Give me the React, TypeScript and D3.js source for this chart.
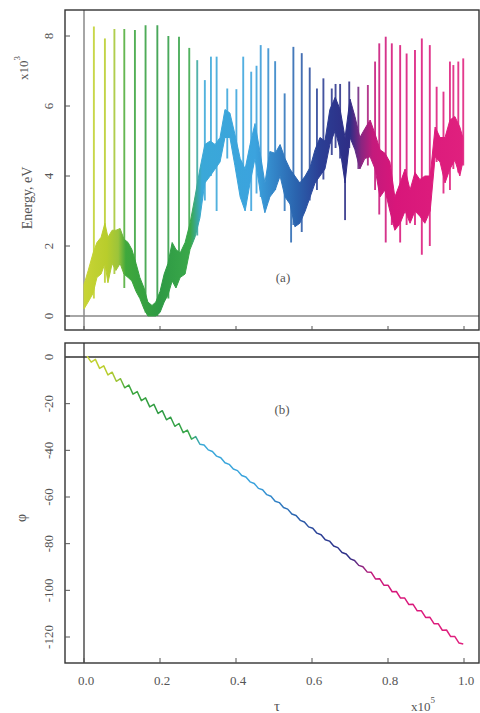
import React from "react";
import * as d3 from "d3";

// ---------- data ----------
const xTicks = [0, 0.2, 0.4, 0.6, 0.8, 1.0];
const xTickLabels = ["0.0", "0.2", "0.4", "0.6", "0.8", "1.0"];
const eTicks = [0, 2, 4, 6, 8];
const phiTicks = [0, -20, -40, -60, -80, -100, -120];

// energy baseline band (tau in 1e5 units, energy in 1e3 eV)
const bandTau = [0.000, 0.011, 0.024, 0.034, 0.045, 0.055, 0.063, 0.074, 0.084, 0.095, 0.105, 0.116, 0.126, 0.137, 0.147, 0.158, 0.168, 0.179, 0.189, 0.200, 0.211, 0.221, 0.232, 0.242, 0.253, 0.266, 0.279, 0.292, 0.305, 0.318, 0.332, 0.345, 0.358, 0.371, 0.384, 0.397, 0.411, 0.424, 0.437, 0.450, 0.463, 0.476, 0.489, 0.503, 0.516, 0.529, 0.542, 0.555, 0.568, 0.582, 0.595, 0.608, 0.621, 0.634, 0.647, 0.661, 0.674, 0.687, 0.700, 0.713, 0.726, 0.739, 0.753, 0.766, 0.779, 0.792, 0.805, 0.818, 0.832, 0.845, 0.858, 0.871, 0.884, 0.897, 0.911, 0.924, 0.937, 0.950, 0.963, 0.976, 0.989, 0.997];
const bandLo = [0.20, 0.40, 0.65, 1.10, 1.20, 1.50, 0.95, 1.50, 1.30, 1.50, 1.20, 1.10, 1.00, 0.70, 0.50, 0.20, 0.00, 0.00, 0.00, 0.10, 0.40, 0.60, 1.00, 0.80, 1.10, 1.20, 1.90, 2.25, 2.80, 3.80, 4.00, 4.20, 4.40, 5.10, 5.10, 4.30, 3.40, 3.00, 3.80, 4.50, 3.60, 2.95, 3.40, 3.60, 4.00, 3.40, 3.20, 2.55, 2.65, 3.00, 3.40, 3.80, 4.00, 4.20, 4.90, 5.30, 4.75, 3.80, 5.10, 4.75, 4.20, 4.50, 4.55, 4.20, 3.40, 3.60, 3.00, 2.45, 2.65, 3.00, 2.65, 3.00, 2.85, 2.65, 3.00, 4.55, 4.40, 3.80, 4.20, 4.45, 4.00, 4.40];
const bandHi = [0.90, 1.30, 1.80, 2.10, 2.25, 2.65, 2.25, 2.45, 2.45, 2.50, 2.20, 2.10, 1.90, 1.50, 1.10, 0.80, 0.40, 0.30, 0.40, 0.70, 1.20, 1.50, 2.10, 1.90, 1.80, 2.10, 2.65, 3.40, 4.20, 4.90, 5.00, 4.90, 5.10, 5.90, 5.80, 5.20, 4.50, 4.20, 4.90, 5.50, 4.70, 3.80, 4.70, 4.65, 4.90, 4.50, 4.20, 4.00, 3.80, 4.00, 4.25, 4.75, 5.10, 5.00, 5.90, 6.25, 5.90, 5.10, 6.20, 5.70, 5.10, 5.35, 5.60, 5.20, 4.75, 4.65, 4.40, 3.40, 3.80, 4.20, 3.60, 4.10, 3.90, 4.00, 4.00, 5.40, 5.10, 5.10, 5.60, 5.70, 5.40, 5.10];

// energy spikes
const spikeTau = [0.026, 0.055, 0.080, 0.106, 0.134, 0.162, 0.193, 0.222, 0.250, 0.277, 0.298, 0.318, 0.334, 0.349, 0.377, 0.401, 0.419, 0.440, 0.454, 0.465, 0.485, 0.503, 0.528, 0.545, 0.551, 0.573, 0.594, 0.613, 0.630, 0.652, 0.662, 0.674, 0.687, 0.698, 0.722, 0.747, 0.766, 0.777, 0.794, 0.810, 0.832, 0.849, 0.871, 0.889, 0.910, 0.928, 0.946, 0.963, 0.972, 0.985, 0.998];
const spikeTop = [8.27, 7.93, 8.20, 8.20, 8.17, 8.31, 8.31, 8.00, 7.98, 7.66, 7.31, 6.74, 7.41, 7.41, 6.50, 6.48, 7.41, 6.98, 7.15, 7.74, 7.65, 7.28, 6.36, 4.00, 7.69, 7.51, 7.10, 6.50, 6.79, 6.50, 6.63, 6.63, 4.80, 6.70, 6.55, 6.60, 7.27, 7.79, 7.98, 7.79, 7.74, 7.50, 7.60, 7.93, 7.74, 6.55, 6.41, 7.27, 7.17, 7.27, 7.36];
const spikeBottom = [0.50, 0.95, 1.20, 0.80, 0.80, 0.10, 0.00, 0.50, 1.20, 2.00, 2.30, 3.30, 4.00, 3.00, 4.50, 4.30, 3.40, 3.00, 3.50, 3.40, 3.30, 3.60, 3.00, 2.10, 2.60, 2.40, 3.30, 3.60, 3.90, 4.60, 4.80, 4.50, 2.74, 4.80, 4.20, 4.30, 3.60, 2.90, 2.10, 2.60, 2.10, 2.60, 2.60, 1.75, 2.00, 4.40, 3.50, 3.60, 4.20, 4.10, 4.30];

// phase series
const phiTau = [0.008, 0.019, 0.030, 0.041, 0.052, 0.063, 0.074, 0.085, 0.096, 0.107, 0.118, 0.129, 0.140, 0.151, 0.162, 0.173, 0.184, 0.195, 0.206, 0.217, 0.228, 0.239, 0.250, 0.261, 0.272, 0.283, 0.294, 0.305, 0.316, 0.327, 0.338, 0.349, 0.360, 0.371, 0.382, 0.393, 0.404, 0.415, 0.426, 0.437, 0.448, 0.459, 0.470, 0.481, 0.492, 0.503, 0.514, 0.525, 0.536, 0.547, 0.558, 0.569, 0.580, 0.591, 0.602, 0.613, 0.624, 0.635, 0.646, 0.657, 0.668, 0.679, 0.690, 0.701, 0.712, 0.723, 0.734, 0.745, 0.756, 0.767, 0.778, 0.789, 0.800, 0.811, 0.822, 0.833, 0.844, 0.855, 0.866, 0.877, 0.888, 0.899, 0.910, 0.921, 0.932, 0.943, 0.954, 0.965, 0.976, 0.987, 0.998];
const phiVal = [0.4, -2.2, -1.0, -4.9, -3.8, -7.7, -6.5, -10.4, -9.3, -13.2, -12.0, -15.9, -14.8, -18.7, -17.5, -21.4, -20.3, -24.2, -23.0, -26.9, -25.8, -29.7, -28.5, -32.4, -31.3, -35.2, -34.1, -37.4, -37.7, -39.8, -40.5, -42.5, -43.2, -45.3, -46.0, -48.0, -48.7, -50.8, -51.4, -53.5, -54.2, -56.3, -56.9, -59.0, -59.7, -61.8, -62.4, -64.5, -65.2, -67.3, -67.9, -70.0, -70.7, -72.8, -73.4, -75.5, -76.2, -78.3, -78.9, -81.0, -81.7, -83.8, -84.4, -86.5, -87.2, -89.3, -89.9, -92.1, -92.3, -95.1, -95.0, -97.8, -97.8, -100.6, -100.5, -103.3, -103.3, -106.1, -106.0, -108.8, -108.8, -111.6, -111.5, -114.3, -114.3, -117.1, -117.0, -119.8, -119.8, -122.6, -123.0];

// colour gradient along tau
const gradOffsets = [0.0, 0.06, 0.09, 0.11, 0.20, 0.28, 0.31, 0.45, 0.50, 0.56, 0.62, 0.70, 0.73, 0.76, 0.82, 1.0];
const gradColors = ["#c8d435", "#b8cd2c", "#9cc43a", "#3fa83c", "#2e9a44", "#3aa84a", "#3aa8d8", "#3ba3de", "#3385c8", "#2a62ad", "#2b3f95", "#2e2d85", "#8a2580", "#c41a7c", "#d8167a", "#e0207e"];

// ---------- layout ----------
const W = 480, H = 713;
const L = 65, R = 479;
const topT = 10, topB = 330;
const botT = 343, botB = 663;

export default function App() {
  const x = d3.scaleLinear().domain([0, 1]).range([84, 464]);
  const yE = d3.scaleLinear().domain([0, 8]).range([316, 36]);
  const yP = d3.scaleLinear().domain([0, -120]).range([357, 637]);

  const band = bandTau.map((t, i) => ({ t, lo: bandLo[i], hi: bandHi[i] }));
  const areaGen = d3.area<any>().x(d => x(d.t)).y0(d => yE(d.lo)).y1(d => yE(d.hi));
  const phiData = phiTau.map((t, i) => ({ t, v: phiVal[i] }));
  const lineGen = d3.line<any>().x(d => x(d.t)).y(d => yP(d.v));

  const textColor = "#555";
  const font = "'Liberation Serif', 'DejaVu Serif', serif";
  const x0 = x(0), x1 = x(1);

  return (
    <svg width={W} height={H} style={{ position: "fixed", left: 0, top: 0, background: "#fff" }} fontFamily={font}>
      <defs>
        <linearGradient id="tg" gradientUnits="userSpaceOnUse" x1={x0} y1={0} x2={x1} y2={0}>
          {gradOffsets.map((o, i) => <stop key={i} offset={o} stopColor={gradColors[i]} />)}
        </linearGradient>
        <clipPath id="clipTop"><rect x={L} y={topT} width={R - L} height={topB - topT} /></clipPath>
        <clipPath id="clipBot"><rect x={L} y={botT} width={R - L} height={botB - botT} /></clipPath>
      </defs>

      {/* ---- top panel ---- */}
      <g clipPath="url(#clipTop)">
        <line x1={L} x2={R} y1={yE(0)} y2={yE(0)} stroke="#888" strokeWidth={1.5} />
        <line x1={x(0)} x2={x(0)} y1={topT} y2={topB} stroke="#888" strokeWidth={1.5} />
        {spikeTau.map((t, i) => (
          <line key={i} x1={x(t)} x2={x(t)} y1={yE(spikeTop[i])} y2={yE(spikeBottom[i])}
            stroke="url(#tg)" strokeWidth={1.9} strokeOpacity={0.88} />
        ))}
        <path d={areaGen(band) || ""} fill="url(#tg)" stroke="url(#tg)" strokeWidth={1} />
      </g>
      <rect x={L} y={topT} width={R - L} height={topB - topT} fill="none" stroke="#333" strokeWidth={1.4} />
      {eTicks.map(v => (
        <g key={v}>
          <line x1={L} x2={L + 5} y1={yE(v)} y2={yE(v)} stroke="#555" strokeWidth={1} />
          <text transform={`translate(48,${yE(v)}) rotate(-90)`} textAnchor="middle" dominantBaseline="central"
            fontSize={13} fill={textColor}>{v}</text>
        </g>
      ))}
      {xTicks.map(v => (
        <line key={v} x1={x(v)} x2={x(v)} y1={topB} y2={topB - 4} stroke="#555" strokeWidth={1} />
      ))}
      <text transform="translate(27,198) rotate(-90)" textAnchor="middle" dominantBaseline="central"
        fontSize={14} fill={textColor}>Energy, eV</text>
      <text transform="translate(23,68) rotate(-90)" textAnchor="middle" dominantBaseline="central"
        fontSize={13} fill={textColor}>x10<tspan fontSize={9} dy={-6}>3</tspan></text>
      <text x={283} y={277} textAnchor="middle" dominantBaseline="central" fontSize={13} fill={textColor}>(a)</text>

      {/* ---- bottom panel ---- */}
      <g clipPath="url(#clipBot)">
        <line x1={L} x2={R} y1={yP(0)} y2={yP(0)} stroke="#333" strokeWidth={1.3} />
        <line x1={x(0)} x2={x(0)} y1={botT} y2={botB} stroke="#333" strokeWidth={1.3} />
        <path d={lineGen(phiData) || ""} fill="none" stroke="url(#tg)" strokeWidth={1.5} strokeLinejoin="round" />
      </g>
      <rect x={L} y={botT} width={R - L} height={botB - botT} fill="none" stroke="#333" strokeWidth={1.4} />
      {phiTicks.map(v => (
        <g key={v}>
          <line x1={L} x2={L + 5} y1={yP(v)} y2={yP(v)} stroke="#555" strokeWidth={1} />
          <text transform={`translate(48,${yP(v)}) rotate(-90)`} textAnchor="middle" dominantBaseline="central"
            fontSize={13} fill={textColor}>{v}</text>
        </g>
      ))}
      {xTicks.map((v, i) => (
        <g key={v}>
          <line x1={x(v)} x2={x(v)} y1={botB} y2={botB - 5} stroke="#555" strokeWidth={1} />
          <text x={x(v) + 2} y={680} textAnchor="middle" dominantBaseline="central" fontSize={13} fill={textColor}>{xTickLabels[i]}</text>
        </g>
      ))}
      <text transform="translate(21,518) rotate(-90)" textAnchor="middle" dominantBaseline="central"
        fontSize={14} fill={textColor}>φ</text>
      <text x={282} y={409} textAnchor="middle" dominantBaseline="central" fontSize={13} fill={textColor}>(b)</text>
      <text x={277} y={706} textAnchor="middle" dominantBaseline="central" fontSize={15} fill={textColor}>τ</text>
      <text x={423} y={706} textAnchor="middle" dominantBaseline="central" fontSize={13} fill={textColor}>x10<tspan fontSize={9} dy={-6}>5</tspan></text>
    </svg>
  );
}
